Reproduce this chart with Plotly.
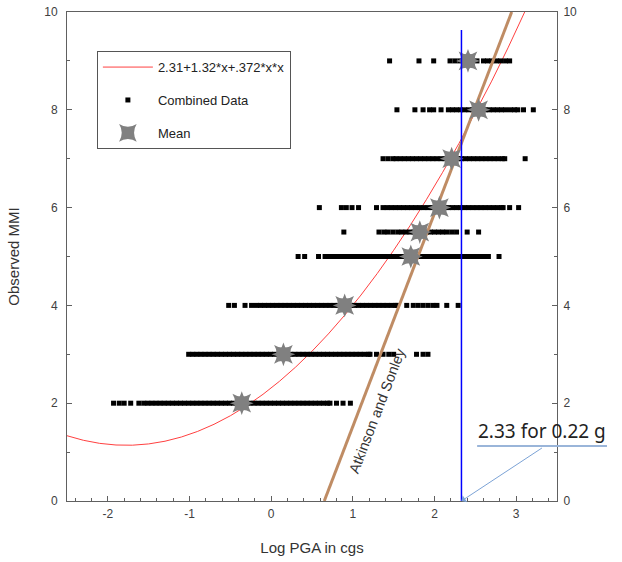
import plotly.graph_objects as go

# ---- data ----
fit_coef = [2.31, 1.32, 0.372]          # y = a + b*x + c*x*x (from legend)
fit_x = [-2.5, -2.3, -2.1, -1.9, -1.7, -1.5, -1.3, -1.1, -0.9, -0.7, -0.5, -0.3, -0.1,
         0.1, 0.3, 0.5, 0.7, 0.9, 1.1, 1.3, 1.5, 1.7, 1.9, 2.1, 2.3, 2.5, 2.7, 2.9, 3.1, 3.2]

row_levels = [2, 3, 4, 5, 5.5, 6, 7, 8, 9]
row2 = [-1.93, -1.86, -1.80, -1.72, -1.62, -1.56, -1.51, -1.46, -1.41, -1.36, -1.31, -1.26, -1.21,
        -1.16, -1.11, -1.06, -1.01, -0.96, -0.91, -0.86, -0.81, -0.76, -0.71, -0.66, -0.61, -0.56,
        -0.51, -0.46, -0.41, -0.36, -0.31, -0.26, -0.21, -0.16, -0.11, -0.06, -0.01, 0.04, 0.09,
        0.14, 0.19, 0.24, 0.29, 0.34, 0.39, 0.44, 0.49, 0.54, 0.59, 0.64, 0.69, 0.72, 0.80, 0.88, 0.97]
row3 = [-1.01, -0.96, -0.91, -0.86, -0.81, -0.76, -0.71, -0.66, -0.61, -0.56, -0.51, -0.46, -0.41,
        -0.36, -0.31, -0.26, -0.21, -0.16, -0.11, -0.06, -0.01, 0.04, 0.09, 0.14, 0.19, 0.24, 0.29,
        0.34, 0.39, 0.44, 0.49, 0.54, 0.59, 0.64, 0.69, 0.74, 0.79, 0.84, 0.89, 0.94, 0.99, 1.04,
        1.09, 1.14, 1.19, 1.21, 1.29, 1.37, 1.44, 1.50, 1.78, 1.86, 1.92]
row4 = [-0.52, -0.45, -0.32, -0.24, -0.18, -0.13, -0.08, -0.03, 0.02, 0.07, 0.12, 0.17, 0.22, 0.27,
        0.32, 0.37, 0.42, 0.47, 0.52, 0.57, 0.62, 0.67, 0.72, 0.77, 0.82, 0.87, 0.92, 0.97, 1.02,
        1.07, 1.12, 1.17, 1.22, 1.27, 1.32, 1.37, 1.42, 1.47, 1.52, 1.54, 1.66, 1.74, 1.80, 1.86,
        1.92, 1.98, 2.03, 2.15, 2.29]
row5 = [0.33, 0.41, 0.58, 0.66, 0.71, 0.76, 0.81, 0.86, 0.91, 0.96, 1.01, 1.06, 1.11, 1.16, 1.21,
        1.26, 1.31, 1.36, 1.41, 1.46, 1.51, 1.56, 1.61, 1.66, 1.71, 1.76, 1.81, 1.86, 1.91, 1.96,
        2.01, 2.06, 2.11, 2.16, 2.21, 2.26, 2.31, 2.36, 2.41, 2.46, 2.51, 2.56, 2.61, 2.66, 2.79]
row55 = [0.89, 1.32, 1.38, 1.43, 1.49, 1.55, 1.60, 1.65, 1.70, 1.75, 1.80, 1.85, 1.90, 1.95, 2.00,
         2.05, 2.10, 2.15, 2.21, 2.27, 2.40, 2.54]
row6 = [0.59, 0.86, 0.92, 0.99, 1.07, 1.29, 1.37, 1.42, 1.47, 1.52, 1.57, 1.62, 1.67, 1.72, 1.77,
        1.82, 1.87, 1.92, 1.97, 2.02, 2.07, 2.12, 2.17, 2.22, 2.27, 2.32, 2.37, 2.42, 2.47, 2.52,
        2.57, 2.62, 2.67, 2.72, 2.77, 2.82, 2.84, 2.92, 3.03]
row7 = [1.37, 1.43, 1.49, 1.53, 1.58, 1.63, 1.68, 1.73, 1.78, 1.83, 1.88, 1.93, 1.98, 2.03, 2.08,
        2.13, 2.18, 2.23, 2.28, 2.33, 2.38, 2.43, 2.48, 2.53, 2.58, 2.63, 2.68, 2.73, 2.78, 2.83,
        2.86, 3.11]
row8 = [1.54, 1.76, 1.86, 1.94, 1.99, 2.08, 2.17, 2.22, 2.27, 2.32, 2.37, 2.42, 2.47, 2.52, 2.57,
        2.62, 2.67, 2.72, 2.77, 2.82, 2.87, 2.93, 2.98, 3.02, 3.09, 3.21]
row9 = [1.45, 1.81, 1.99, 2.19, 2.25, 2.31, 2.37, 2.45, 2.52, 2.60, 2.65, 2.70, 2.76, 2.81, 2.87, 2.92]
rows = [row2, row3, row4, row5, row55, row6, row7, row8, row9]

mean_x = [-0.36, 0.15, 0.90, 1.71, 1.82, 2.06, 2.21, 2.54, 2.41]
mean_y = [2, 3, 4, 5, 5.5, 6, 7, 8, 9]

atk_x = [0.65, 2.945]
atk_y = [0, 10]

pga_line_x = [2.33, 2.33]
pga_line_y = [0, 9.63]

x_ticks = [-2, -1, 0, 1, 2, 3]
x_tick_labels = ["-2", "-1", "0", "1", "2", "3"]
y_ticks = [0, 2, 4, 6, 8, 10]

# ---- build ----
fit_y = [fit_coef[0] + fit_coef[1] * x + fit_coef[2] * x * x for x in fit_x]

data_x, data_y = [], []
for lvl, r in zip(row_levels, rows):
    data_x += r
    data_y += [lvl] * len(r)

FONT = "Liberation Sans"
AX = "#606060"

fig = go.Figure()
fig.add_trace(go.Scatter(x=fit_x, y=fit_y, mode="lines", name="2.31+1.32*x+.372*x*x",
                         line=dict(color="#ff4040", width=1), legendgroup="a"))
fig.add_trace(go.Scatter(x=data_x, y=data_y, mode="markers", name="Combined Data",
                         marker=dict(symbol="square", size=5, color="black", line=dict(width=0)),
                         legendgroup="b"))
fig.add_trace(go.Scatter(x=atk_x, y=atk_y, mode="lines", showlegend=False,
                         line=dict(color="#bf8c64", width=3)))
fig.add_trace(go.Scatter(x=mean_x, y=mean_y, mode="markers", name="Mean",
                         marker=dict(symbol="star-square", size=17, color="#808080",
                                     line=dict(width=0)), legendgroup="c"))
fig.add_trace(go.Scatter(x=mean_x, y=mean_y, mode="markers", showlegend=False,
                         marker=dict(symbol="star-diamond", size=17, color="#808080",
                                     line=dict(width=0)), legendgroup="c"))
fig.add_trace(go.Scatter(x=pga_line_x, y=pga_line_y, mode="lines", showlegend=False,
                         yaxis="y2", line=dict(color="#0000ff", width=1.5)))

tickfont = dict(family=FONT, size=12, color="#404040")
fig.update_layout(
    width=622, height=562,
    margin=dict(l=67, r=65, t=12, b=61),
    paper_bgcolor="white", plot_bgcolor="white",
    font=dict(family=FONT, size=12, color="#333"),
    showlegend=True,
    legend=dict(x=0.061, y=0.92, xanchor="left", yanchor="top",
                bordercolor="#555", borderwidth=1, bgcolor="white",
                font=dict(family=FONT, size=13, color="#222"),
                traceorder="grouped", tracegroupgap=13, itemwidth=50),
    xaxis=dict(range=[-2.5, 3.5], tickvals=x_ticks, ticktext=x_tick_labels,
               ticks="inside", ticklen=5, tickcolor=AX,
               minor=dict(dtick=0.2, ticks="inside", ticklen=3, tickcolor=AX),
               showline=True, linecolor=AX, linewidth=1, mirror=True, automargin=False,
               showgrid=False, zeroline=False, tickfont=tickfont, ticklabelstandoff=2,
               title=dict(text="Log PGA in cgs", standoff=22,
                          font=dict(family=FONT, size=15, color="#333"))),
    yaxis=dict(range=[0, 10], tickvals=y_ticks, ticks="inside", ticklen=5, tickcolor=AX,
               minor=dict(dtick=1, ticks="inside", ticklen=3, tickcolor=AX),
               showline=True, linecolor=AX, linewidth=1, automargin=False,
               showgrid=False, zeroline=False, tickfont=tickfont, ticklabelstandoff=6,
               title=dict(text="Observed MMI", standoff=20,
                          font=dict(family=FONT, size=15, color="#333"))),
    yaxis2=dict(range=[0, 10], tickvals=y_ticks, ticks="inside", ticklen=5, tickcolor=AX,
                minor=dict(dtick=1, ticks="inside", ticklen=3, tickcolor=AX),
                showline=True, linecolor=AX, linewidth=1, overlaying="y", side="right",
                automargin=False, showgrid=False, zeroline=False, tickfont=tickfont,
                ticklabelstandoff=3),
)

fig.add_annotation(x=1.296, y=1.84, xref="x", yref="y", text="Atkinson and Sonley",
                   textangle=-69, showarrow=False,
                   font=dict(family=FONT, size=14.5, color="#333"))
fig.add_annotation(x=0.969, y=0.143, xref="paper", yref="paper", text="2.33 for 0.22 g",
                   xanchor="center", yanchor="middle",
                   showarrow=False, font=dict(family="Noto Sans", size=19, color="#222"))
fig.add_annotation(x=2.33, y=0, xref="x", yref="y", text="", showarrow=True,
                   ax=82, ay=-54, arrowcolor="#7ca3d6", arrowwidth=1, arrowhead=1,
                   arrowsize=1.4, standoff=0)
fig.add_shape(type="line", xref="paper", yref="paper", x0=0.837, x1=1.102, y0=0.1125, y1=0.1125,
              line=dict(color="#9ab5d9", width=2))

fig.write_html("out.html", config={"displayModeBar": False},
               post_script="document.body.style.margin='0';")
